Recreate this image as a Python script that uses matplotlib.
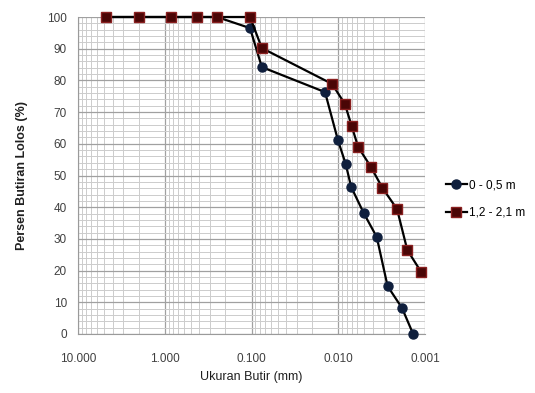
import matplotlib.pyplot as plt
from matplotlib.ticker import FixedLocator, MultipleLocator, FuncFormatter

# grain size distribution
size_a = [4.75, 2.0, 0.85, 0.425, 0.25, 0.104, 0.076, 0.0142, 0.0101, 0.0082,
          0.0071, 0.0051, 0.0036, 0.0027, 0.00184, 0.00137]
pass_a = [100, 100, 100, 100, 100, 96.5, 84.2, 76.3, 61.2, 53.6,
          46.4, 38.2, 30.6, 15.1, 8.2, 0]

size_b = [4.75, 2.0, 0.85, 0.425, 0.25, 0.104, 0.076, 0.0118, 0.0084, 0.0070,
          0.0059, 0.0042, 0.0031, 0.0021, 0.0016, 0.00111]
pass_b = [100, 100, 100, 100, 100, 100, 90.2, 78.9, 72.6, 65.6,
          59.0, 52.7, 46.1, 39.4, 26.5, 19.6]

label_a = '0 - 0,5 m'
label_b = '1,2 - 2,1 m'

plt.rcParams['font.family'] = ['Liberation Sans', 'DejaVu Sans']

fig = plt.figure(figsize=(5.35, 3.93), dpi=100)
ax = fig.add_axes([78 / 535, 1 - 334 / 393, (425 - 78) / 535, (334 - 17) / 393])

ax.plot(size_a, pass_a, color='black', lw=1.6, marker='o', ms=6.5,
        mfc='#0f1f3d', mec='#0f1f3d', label=label_a, zorder=3, clip_on=False)
ax.plot(size_b, pass_b, color='black', lw=1.6, marker='s', ms=6.5,
        mfc='#4a0606', mec='#8a2020', label=label_b, zorder=4, clip_on=False)

ax.set_xscale('log')
ax.set_xlim(10, 0.001)
ax.set_ylim(0, 100)

ax.xaxis.set_major_locator(FixedLocator([10, 1, 0.1, 0.01, 0.001]))
ax.xaxis.set_major_formatter(FuncFormatter(lambda v, p: f'{v:.3f}'))
ax.yaxis.set_major_locator(MultipleLocator(10))
ax.yaxis.set_minor_locator(MultipleLocator(2))

ax.grid(which='major', color='#a0a0a0', lw=0.9)
ax.grid(which='minor', color='#cccccc', lw=0.7)
ax.set_axisbelow(True)

for s in ['top', 'right']:
    ax.spines[s].set_visible(False)
for s in ['left', 'bottom']:
    ax.spines[s].set_color('#9a9a9a')

ax.tick_params(axis='both', which='both', length=0, colors='#404040', labelsize=8.5)
ax.tick_params(axis='x', pad=14)
ax.tick_params(axis='y', pad=8)

ax.set_xlabel('Ukuran Butir (mm)', fontsize=9, color='#202020')
ax.set_ylabel('Persen Butiran Lolos (%)', fontsize=9, fontweight='bold',
              color='#202020', labelpad=14)

fig.legend(loc='center left', bbox_to_anchor=(435 / 535, 1 - 199 / 393),
           frameon=False, fontsize=8.5, handlelength=1.8, handletextpad=0.2,
           labelspacing=1.3)

fig.savefig('out.png', dpi=100)
